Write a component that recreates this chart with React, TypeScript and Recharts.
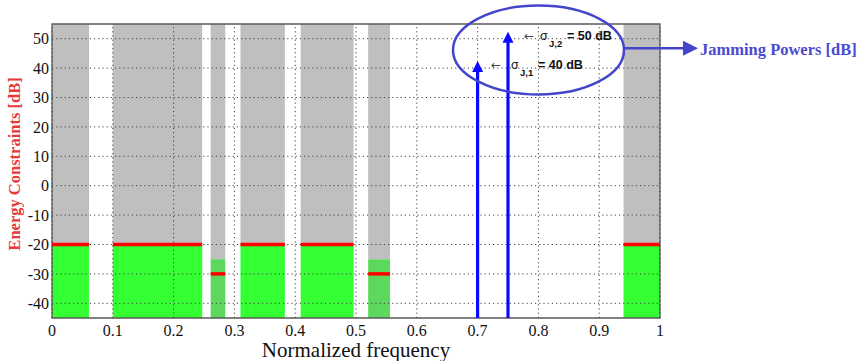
import React from 'react';
import { ComposedChart, XAxis, YAxis, ReferenceArea, ReferenceLine } from 'recharts';

// spectrum bands where the user may transmit
const bandStarts = [0, 0.1, 0.261, 0.31, 0.409, 0.52, 0.94];
const bandEnds = [0.061, 0.247, 0.285, 0.383, 0.496, 0.556, 1];
const constraintLevels = [-20, -20, -30, -20, -20, -30, -20];
const greenTops = [-20, -20, -25, -20, -20, -25, -20];

// jammers
const jamFreqs = [0.7, 0.75];
const jamPowers = [40, 50];

const xTicks = [0, 0.1, 0.2, 0.3, 0.4, 0.5, 0.6, 0.7, 0.8, 0.9, 1];
const yTicks = [-40, -30, -20, -10, 0, 10, 20, 30, 40, 50];
const yMin = -45;
const yMax = 55;

const serif = 'Liberation Serif, Tinos, Times New Roman, DejaVu Serif, serif';
const sans = 'Liberation Sans, Arial, sans-serif';

const data = jamFreqs.map((f, i) => ({ f, p: jamPowers[i] }));

const JamArrow = (props: any) => {
  const { x1, y1, x2, y2 } = props;
  return (
    <g>
      <line x1={x1} y1={y1} x2={x2} y2={y2 + 2} stroke="#0a0aff" strokeWidth={3.2} />
      <polygon points={`${x2},${y2 - 7} ${x2 - 5.5},${y2 + 4} ${x2 + 5.5},${y2 + 4}`} fill="#0a0aff" />
    </g>
  );
};

export default function App() {
  return (
    <div style={{ position: 'absolute', left: 0, top: 0, width: 862, height: 361, background: '#fff' }}>
      <ComposedChart
        width={862}
        height={361}
        data={data}
        margin={{ top: 24, right: 202, bottom: 13, left: 0 }}
      >
        <XAxis
          type="number"
          dataKey="f"
          domain={[0, 1]}
          ticks={xTicks}
          height={30}
          tickLine={false}
          axisLine={false}
          tickSize={0}
          tickMargin={7}
          tick={{ fill: '#111', fontSize: 16, style: { fontFamily: serif } }}
          interval={0}
          allowDataOverflow
        />
        <YAxis
          type="number"
          domain={[yMin, yMax]}
          ticks={yTicks}
          width={52}
          tickLine={false}
          axisLine={false}
          tickSize={0}
          tickMargin={3}
          tick={{ fill: '#111', fontSize: 16, style: { fontFamily: serif } }}
          interval={0}
          allowDataOverflow
        />
        {bandStarts.map((s, i) => (
          <ReferenceArea key={'g' + i} x1={s} x2={bandEnds[i]} y1={greenTops[i]} y2={yMax} fill="#bfbfbf" fillOpacity={1} stroke="none" />
        ))}
        {bandStarts.map((s, i) => (
          <ReferenceArea
            key={'c' + i}
            x1={s}
            x2={bandEnds[i]}
            y1={yMin}
            y2={greenTops[i]}
            fill={greenTops[i] === constraintLevels[i] ? '#33ff33' : '#5cd95c'}
            fillOpacity={1}
            stroke="none"
          />
        ))}
        {xTicks.map((t) => (
          <ReferenceLine key={'vx' + t} x={t} stroke="#444" strokeDasharray="1.2 3" strokeWidth={1} />
        ))}
        {yTicks.map((t) => (
          <ReferenceLine key={'hy' + t} y={t} stroke="#444" strokeDasharray="1.2 3" strokeWidth={1} />
        ))}
        {bandStarts.map((s, i) => (
          <ReferenceLine
            key={'r' + i}
            segment={[{ x: s, y: constraintLevels[i] }, { x: bandEnds[i], y: constraintLevels[i] }]}
            stroke="#ff0000"
            strokeWidth={3.5}
          />
        ))}
        {jamFreqs.map((f, i) => (
          <ReferenceLine
            key={'j' + i}
            segment={[{ x: f, y: yMin }, { x: f, y: jamPowers[i] }]}
            shape={JamArrow}
          />
        ))}
        <ReferenceArea x1={0} x2={1} y1={yMin} y2={yMax} fill="none" stroke="#5a5a5a" strokeWidth={1.3} />
      </ComposedChart>
      <svg width={862} height={361} style={{ position: 'absolute', left: 0, top: 0, pointerEvents: 'none' }}>
        <text
          x={14}
          y={164}
          transform="rotate(-90 14 164)"
          textAnchor="middle"
          dominantBaseline="central"
          fill="#e53b3b"
          style={{ fontFamily: serif }}
          fontWeight="bold"
          fontSize={16.5}
        >
          Energy Constraints [dB]
        </text>
        <text x={356} y={357} textAnchor="middle" fill="#111" style={{ fontFamily: serif }} fontSize={21}>
          Normalized frequency
        </text>
        <ellipse cx={538.5} cy={50} rx={85.5} ry={44.5} fill="none" stroke="#4545cc" strokeWidth={2.5} />
        <line x1={624} y1={48.3} x2={684} y2={48.3} stroke="#4545cc" strokeWidth={2.5} />
        <polygon points="698,48.3 683,40.8 683,55.8" fill="#4545cc" />
        <text x={700} y={55} fill="#4a4ad2" style={{ fontFamily: serif }} fontWeight="bold" fontSize={16.5}>
          Jamming Powers [dB]
        </text>
        <g style={{ fontFamily: sans }} fontSize={12.5} fill="#111">
          <text x={524} y={40} fill="#444" fontSize={12} style={{ fontFamily: 'DejaVu Sans, sans-serif' }}>←</text>
          <text x={540} y={40}>σ</text>
          <text x={549} y={47} fontSize={9.5} fontWeight="bold">J,2</text>
          <text x={567} y={40} fontWeight="bold">= 50 dB</text>
          <text x={491} y={69} fill="#444" fontSize={12} style={{ fontFamily: 'DejaVu Sans, sans-serif' }}>←</text>
          <text x={511} y={69}>σ</text>
          <text x={520} y={76} fontSize={9.5} fontWeight="bold">J,1</text>
          <text x={538} y={69} fontWeight="bold">= 40 dB</text>
        </g>
      </svg>
    </div>
  );
}
